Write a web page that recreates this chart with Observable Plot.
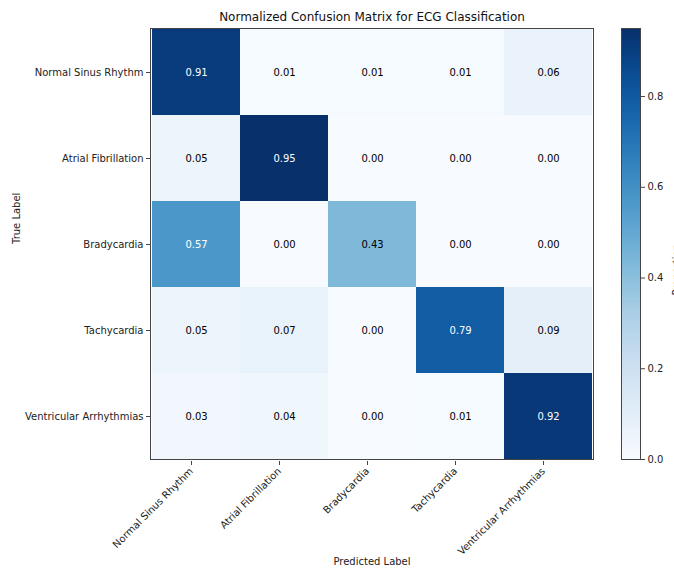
<!DOCTYPE html>
<html>
<head>
<meta charset="utf-8">
<script src="https://cdn.jsdelivr.net/npm/d3@7"></script>
<script src="https://cdn.jsdelivr.net/npm/@observablehq/plot@0.6"></script>
<style>
  body { margin: 0; background: #fff; }
  #chart { position: relative; width: 674px; height: 568px; overflow: hidden; font-family: "DejaVu Sans", sans-serif; }
  #chart > svg { position: absolute; top: 0; }
</style>
</head>
<body>
<div id="chart"></div>
<script>
// Classes shared by both axes (true label rows, predicted label columns)
const categories = ["Normal Sinus Rhythm", "Atrial Fibrillation", "Bradycardia", "Tachycardia", "Ventricular Arrhythmias"];

// Row-normalized confusion matrix (rows = true class, columns = predicted class)
const rowNormalSinus   = [0.91, 0.01, 0.01, 0.01, 0.06];
const rowAtrialFib     = [0.05, 0.95, 0.00, 0.00, 0.00];
const rowBradycardia   = [0.57, 0.00, 0.43, 0.00, 0.00];
const rowTachycardia   = [0.05, 0.07, 0.00, 0.79, 0.09];
const rowVentricular   = [0.03, 0.04, 0.00, 0.01, 0.92];
const matrixRows = [rowNormalSinus, rowAtrialFib, rowBradycardia, rowTachycardia, rowVentricular];

const colorTicks = [0.0, 0.2, 0.4, 0.6, 0.8];
const colorMax = d3.max(matrixRows.flat());

const cells = categories.flatMap((t, i) =>
  categories.map((p, j) => ({ trueLabel: t, predicted: p, value: matrixRows[i][j] }))
);

const colorScale = { type: "linear", domain: [0, colorMax], scheme: "blues" };
const axisColor = "#444";

const heatmap = Plot.plot({
  width: 600,
  height: 568,
  marginLeft: 150,
  marginRight: 7,
  marginTop: 28,
  marginBottom: 109,
  style: { fontFamily: "DejaVu Sans, sans-serif", fontSize: "10px", color: "#222", background: "transparent" },
  x: { domain: categories, padding: 0, label: null },
  y: { domain: categories, padding: 0, label: null },
  color: colorScale,
  marks: [
    Plot.cell(cells, { x: "predicted", y: "trueLabel", fill: "value", inset: 0 }),
    Plot.text(cells, {
      x: "predicted", y: "trueLabel",
      text: d => d.value.toFixed(2),
      fill: d => d.value > colorMax / 2 ? "white" : "black",
      fontSize: 10
    }),
    Plot.frame({ stroke: axisColor, strokeWidth: 1 }),
    Plot.axisX({ tickRotate: -45, tickSize: 4, tickPadding: 4, stroke: axisColor, textAnchor: "end", dx: -5, dy: 2, label: null }),
    Plot.axisY({ tickSize: 4, tickPadding: 3, stroke: axisColor, label: null }),
    Plot.text(["Normalized Confusion Matrix for ECG Classification"], {
      frameAnchor: "top", lineAnchor: "middle", dy: -11, fontSize: 12, fill: "#111"
    }),
    Plot.text(["Predicted Label"], { frameAnchor: "bottom", lineAnchor: "middle", dy: 102, fontSize: 10, fill: "#222" }),
    Plot.text(["True Label"], { frameAnchor: "left", lineAnchor: "middle", dx: -134, rotate: -90, fontSize: 10, fill: "#222" })
  ]
});
heatmap.style.left = "0px";

// Vertical colorbar built from thin bands of the same color scale
const step = colorMax / 200;
const bands = d3.range(0, 200).map(i => ({ y1: i * step, y2: (i + 1) * step, v: (i + 0.5) * step }));

const colorbar = Plot.plot({
  width: 90,
  height: 568,
  marginLeft: 21,
  marginRight: 50,
  marginTop: 28,
  marginBottom: 109,
  style: { fontFamily: "DejaVu Sans, sans-serif", fontSize: "10px", color: "#222", background: "transparent", overflow: "visible" },
  x: { domain: [0, 1], axis: null },
  y: { domain: [0, colorMax], axis: null },
  color: colorScale,
  marks: [
    Plot.rect(bands, { x1: 0, x2: 1, y1: "y1", y2: "y2", fill: "v", inset: 0, shapeRendering: "crispEdges" }),
    Plot.frame({ stroke: axisColor, strokeWidth: 1 }),
    Plot.axisY(colorTicks, { anchor: "right", tickSize: 4, tickPadding: 3, stroke: axisColor, tickFormat: d3.format(".1f"), label: null }),
    Plot.text(["Proportion"], { frameAnchor: "right", lineAnchor: "middle", dx: 36, rotate: -90, fontSize: 10, fill: "#222" })
  ]
});
colorbar.style.left = "600px";

const chart = document.getElementById("chart");
chart.append(heatmap, colorbar);
</script>
</body>
</html>
